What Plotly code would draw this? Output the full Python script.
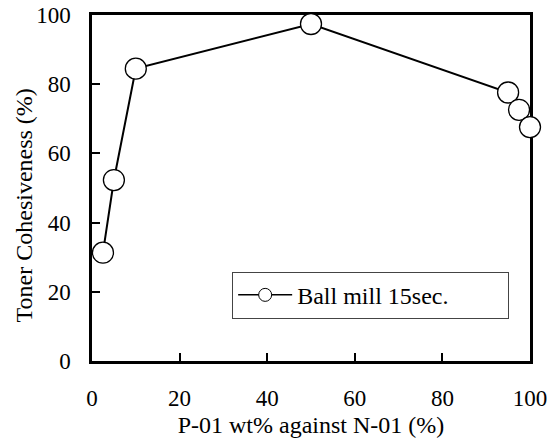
import plotly.graph_objects as go

x_vals = [2.5, 5, 10, 50, 95, 97.5, 100]
y_vals = [31.3, 52.3, 84.5, 97.4, 77.6, 72.6, 67.6]
series_name = "Ball mill 15sec."
tick_vals = [0, 20, 40, 60, 80, 100]
x_title = "P-01 wt% against N-01 (%)"
y_title = "Toner Cohesiveness (%)"

FONT = "'Liberation Serif', 'Times New Roman', serif"

fig = go.Figure()
fig.add_trace(go.Scatter(
    x=x_vals, y=y_vals, mode="lines+markers", name=series_name,
    line=dict(color="black", width=2),
    marker=dict(size=21, color="white", line=dict(color="black", width=1.3)),
    cliponaxis=False, showlegend=False, legendgroup="s",
))
# legend entry (thin line sample, like the reference)
fig.add_trace(go.Scatter(
    x=[None], y=[None], mode="lines+markers", name=series_name + "\u00a0" * 9,
    line=dict(color="black", width=1.5),
    marker=dict(size=13, color="white", line=dict(color="black", width=1)),
    showlegend=True, legendgroup="s",
))

axis_common = dict(
    range=[0, 100], tickvals=tick_vals, ticks="inside", ticklen=8, tickwidth=2,
    tickcolor="black", showline=True, linecolor="black", linewidth=2.5,
    mirror=True, showgrid=False, zeroline=False, layer="below traces",
    automargin=False,
    tickfont=dict(family=FONT, size=23, color="black"),
)

fig.update_layout(
    width=557, height=440,
    margin=dict(l=92, r=27, t=15, b=79),
    plot_bgcolor="white", paper_bgcolor="white",
    font=dict(family=FONT, size=23, color="black"),
    xaxis=dict(**axis_common, ticklabelstandoff=15,
               title=dict(text=x_title, standoff=6, font=dict(family=FONT, size=24, color="black"))),
    yaxis=dict(**axis_common, ticklabelstandoff=14),
    showlegend=True,
    legend=dict(x=0.32, y=0.19, xanchor="left", yanchor="middle",
                bordercolor="#444", borderwidth=1, bgcolor="white",
                itemsizing="trace", itemwidth=54,
                font=dict(family=FONT, size=24, color="black")),
    annotations=[dict(text=y_title, textangle=-90, xref="paper", yref="paper",
                      x=-0.155, y=0.45, xanchor="center", yanchor="middle",
                      showarrow=False, font=dict(family=FONT, size=24, color="black"))],
)

fig.write_html("out.html")
